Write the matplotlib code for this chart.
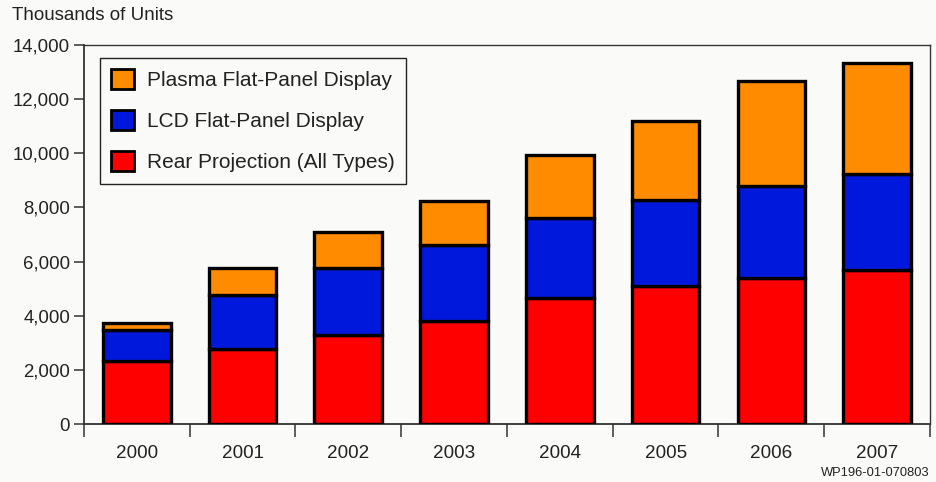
import matplotlib
matplotlib.use("Agg")
import matplotlib.pyplot as plt
from matplotlib.patches import Patch
import numpy as np

plt.rcParams['font.family'] = ['Liberation Sans', 'DejaVu Sans']

years = ["2000", "2001", "2002", "2003", "2004", "2005", "2006", "2007"]
rear = [2320, 2780, 3300, 3800, 4670, 5090, 5390, 5680]
lcd_total = [3460, 4780, 5750, 6610, 7620, 8260, 8780, 9240]
plasma_total = [3730, 5760, 7080, 8240, 9920, 11200, 12660, 13320]
lcd = [t - r for t, r in zip(lcd_total, rear)]
plasma = [p - t for p, t in zip(plasma_total, lcd_total)]

bg = "#FAFAF8"
c_rear, c_lcd, c_plasma = "#FF0000", "#0018DC", "#FF8C00"

fig = plt.figure(figsize=(9.37, 4.82), dpi=100, facecolor=bg)
ax = fig.add_axes([0.0896, 0.1203, 0.9029, 0.7863], facecolor=bg)

x = np.arange(len(years))
w = 0.64
kw = dict(width=w, edgecolor="black", linewidth=2.4, zorder=3)
ax.bar(x, rear, color=c_rear, **kw)
ax.bar(x, lcd, bottom=rear, color=c_lcd, **kw)
ax.bar(x, plasma, bottom=lcd_total, color=c_plasma, **kw)

ax.set_xlim(-0.5, len(years) - 0.5)
ax.set_ylim(0, 14000)
ax.set_yticks(np.arange(0, 14001, 2000))
ax.set_yticklabels([f"{v:,}" for v in range(0, 14001, 2000)], fontsize=13.4, color="#222222")
ax.set_xticks(x)
ax.set_xticklabels(years, fontsize=13.6, color="#222222")
ax.tick_params(axis="x", length=0, pad=15)
ax.set_xticks(np.arange(-0.5, len(years) + 0.5, 1), minor=True)
ax.tick_params(axis="x", which="minor", length=9, width=1.1, color="#333333", direction="out")
ax.tick_params(axis="y", length=7, width=1.1, color="#333333", direction="out", pad=3)

for s in ["left", "bottom"]:
    ax.spines[s].set_linewidth(1.3)
    ax.spines[s].set_color("#333333")
for s in ["top", "right"]:
    ax.spines[s].set_linewidth(1.0)
    ax.spines[s].set_color("#333333")

handles = [Patch(facecolor=c_plasma, edgecolor="black", linewidth=2.0, label="Plasma Flat-Panel Display"),
           Patch(facecolor=c_lcd, edgecolor="black", linewidth=2.0, label="LCD Flat-Panel Display"),
           Patch(facecolor=c_rear, edgecolor="black", linewidth=2.0, label="Rear Projection (All Types)")]
leg = ax.legend(handles=handles, loc="upper left", bbox_to_anchor=(0.019, 0.966), fontsize=15,
                frameon=True, fancybox=False, edgecolor="#222222", facecolor=bg,
                handlelength=1.1, handleheight=1.1, handletextpad=0.6, labelspacing=0.95,
                borderpad=0.55, borderaxespad=0, framealpha=1)
leg.get_frame().set_linewidth(1.0)
for t in leg.get_texts():
    t.set_color("#222222")

fig.text(12 / 937, 1 - 15 / 482, "Thousands of Units", fontsize=13.5, color="#222222", va="center", ha="left")
fig.text(930 / 937, 1 - 473 / 482, "WP196-01-070803", fontsize=9.3, color="#222222", va="center", ha="right")

fig.savefig("out.png", dpi=100, facecolor=bg)
